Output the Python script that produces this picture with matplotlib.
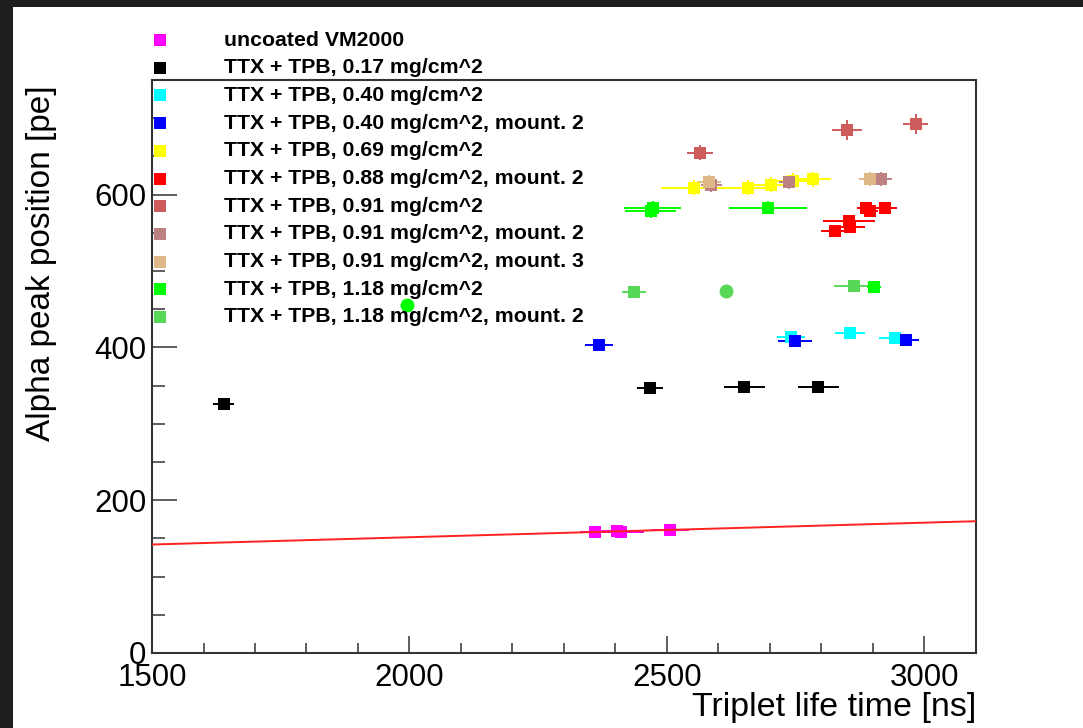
import matplotlib
matplotlib.use("Agg")
import matplotlib.pyplot as plt
from matplotlib.lines import Line2D
from matplotlib.patches import Rectangle
from matplotlib.ticker import MultipleLocator

plt.rcParams['font.family'] = ['Liberation Sans', 'DejaVu Sans']

# ---------------- data ----------------
labels = [
    "uncoated VM2000",
    "TTX + TPB, 0.17 mg/cm^2",
    "TTX + TPB, 0.40 mg/cm^2",
    "TTX + TPB, 0.40 mg/cm^2, mount. 2",
    "TTX + TPB, 0.69 mg/cm^2",
    "TTX + TPB, 0.88 mg/cm^2, mount. 2",
    "TTX + TPB, 0.91 mg/cm^2",
    "TTX + TPB, 0.91 mg/cm^2, mount. 2",
    "TTX + TPB, 0.91 mg/cm^2, mount. 3",
    "TTX + TPB, 1.18 mg/cm^2",
    "TTX + TPB, 1.18 mg/cm^2, mount. 2",
]
colors = ["#ff00ff", "#000000", "#00ffff", "#0000ff", "#ffff00", "#ff0000",
          "#cd5c5c", "#bc8282", "#deb887", "#00ff00", "#57d957"]

uncoated_x = [2360, 2402, 2410, 2506]
uncoated_y = [158, 160, 159, 161]
uncoated_xerr = [29, 37, 45, 37]
uncoated_yerr = [3, 3, 3, 3]

t017_x = [1639, 2467, 2650, 2794]
t017_y = [326, 347, 348, 348]
t017_xerr = [20, 26, 40, 40]
t017_yerr = [4, 4, 4, 4]

t040_x = [2741, 2856, 2942]
t040_y = [414, 419, 412]
t040_xerr = [27, 29, 30]
t040_yerr = [4, 4, 4]

t040m2_x = [2368, 2748, 2964]
t040m2_y = [403, 409, 410]
t040m2_xerr = [27, 33, 25]
t040m2_yerr = [4, 4, 4]

t069_x = [2553, 2657, 2701, 2745, 2783]
t069_y = [609, 609, 613, 618, 620]
t069_xerr = [64, 55, 40, 35, 36]
t069_yerr = [10, 10, 10, 10, 10]

t088m2_x = [2827, 2853, 2855, 2887, 2895, 2923]
t088m2_y = [552, 566, 558, 582, 578, 582]
t088m2_xerr = [27, 50, 29, 18, 15, 23]
t088m2_yerr = [5, 5, 5, 5, 5, 5]

t091_x = [2564, 2850, 2983]
t091_y = [655, 684, 692]
t091_xerr = [25, 29, 24]
t091_yerr = [10, 13, 13]

t091m2_x = [2586, 2737, 2916]
t091m2_y = [612, 616, 620]
t091m2_xerr = [20, 20, 20]
t091m2_yerr = [9, 9, 9]

t091m3_x = [2582, 2895]
t091m3_y = [617, 620]
t091m3_xerr = [23, 23]
t091m3_yerr = [9, 9]

t118_x = [2472, 2468, 2696, 2902]
t118_y = [583, 578, 583, 479]
t118_xerr = [55, 50, 75, 14]
t118_yerr = [9, 9, 9, 5]
t118_circ_x = [1996]
t118_circ_y = [456]

t118m2_x = [2436, 2864]
t118m2_y = [472, 481]
t118m2_xerr = [24, 40]
t118m2_yerr = [5, 5]
t118m2_circ_x = [2615]
t118m2_circ_y = [474]

fit_x = [1500, 3100]
fit_y = [142, 172.5]

series = [
    (uncoated_x, uncoated_y, uncoated_xerr, uncoated_yerr),
    (t017_x, t017_y, t017_xerr, t017_yerr),
    (t040_x, t040_y, t040_xerr, t040_yerr),
    (t040m2_x, t040m2_y, t040m2_xerr, t040m2_yerr),
    (t069_x, t069_y, t069_xerr, t069_yerr),
    (t088m2_x, t088m2_y, t088m2_xerr, t088m2_yerr),
    (t091_x, t091_y, t091_xerr, t091_yerr),
    (t091m2_x, t091m2_y, t091m2_xerr, t091m2_yerr),
    (t091m3_x, t091m3_y, t091m3_xerr, t091m3_yerr),
    (t118_x, t118_y, t118_xerr, t118_yerr),
    (t118m2_x, t118m2_y, t118m2_xerr, t118m2_yerr),
]

# ---------------- figure ----------------
W, H = 1083, 728
fig = plt.figure(figsize=(W / 100, H / 100), dpi=100, facecolor="white")
# dark screenshot border (top and left)
fig.patches.append(Rectangle((0, 1 - 7 / H), 1, 7 / H, transform=fig.transFigure,
                             facecolor="#1e1e1e", edgecolor="none", zorder=0))
fig.patches.append(Rectangle((0, 0), 13 / W, 1, transform=fig.transFigure,
                             facecolor="#1e1e1e", edgecolor="none", zorder=0))

ax = fig.add_axes([152 / W, 1 - 653 / H, 824 / W, 573 / H])
ax.set_facecolor("none")

for (x, y, xe, ye), c in zip(series, colors):
    ax.errorbar(x, y, xerr=xe, yerr=ye, fmt="s", ms=9, mew=0, color=c,
                ecolor=c, elinewidth=1.4, capsize=3.3, capthick=1.4, zorder=3)

ax.plot(t118_circ_x, t118_circ_y, "o", ms=10, mew=0, color=colors[9], zorder=3)
ax.plot(t118m2_circ_x, t118m2_circ_y, "o", ms=10, mew=0, color=colors[10], zorder=3)

ax.plot(fit_x, fit_y, color="#ff2020", lw=1.4, zorder=4)

ax.set_xlim(1500, 3100)
ax.set_ylim(0, 750)

ax.xaxis.set_major_locator(MultipleLocator(500))
ax.xaxis.set_minor_locator(MultipleLocator(100))
ax.yaxis.set_major_locator(MultipleLocator(200))
ax.yaxis.set_minor_locator(MultipleLocator(50))

frame_c = "#333333"
for s in ax.spines.values():
    s.set_color(frame_c)
    s.set_linewidth(1.5)

ax.tick_params(axis="x", which="major", direction="in", length=12, width=1.1,
               color=frame_c, labelsize=22.5, pad=7, top=False)
ax.tick_params(axis="x", which="minor", direction="in", length=7, width=1.1,
               color=frame_c, top=False)
ax.tick_params(axis="y", which="major", direction="in", length=18, width=1.1,
               color=frame_c, labelsize=22.5, pad=4, right=False)
ax.tick_params(axis="y", which="minor", direction="in", length=9, width=1.1,
               color=frame_c, right=False)

ax.set_xlabel("Triplet life time [ns]", fontsize=24.5, loc="right")
ax.xaxis.set_label_coords(1.0, -0.068)
ax.set_ylabel("Alpha peak position [pe]", fontsize=24, loc="top")
ax.yaxis.set_label_coords(-0.115, 0.99)

# legend (ROOT style, no border, over the frame)
for i, (lab, c) in enumerate(zip(labels, colors)):
    ypx = 40 + 27.7 * i
    fig.add_artist(Line2D([160 / W], [1 - ypx / H], marker="s", ms=8.8, mew=0,
                          color=c, transform=fig.transFigure, zorder=5))
    fig.text(224 / W, 1 - ypx / H, lab, fontsize=15.3, fontweight="bold",
             va="center", ha="left", zorder=5)

fig.savefig("out.png", dpi=100, facecolor="white")
